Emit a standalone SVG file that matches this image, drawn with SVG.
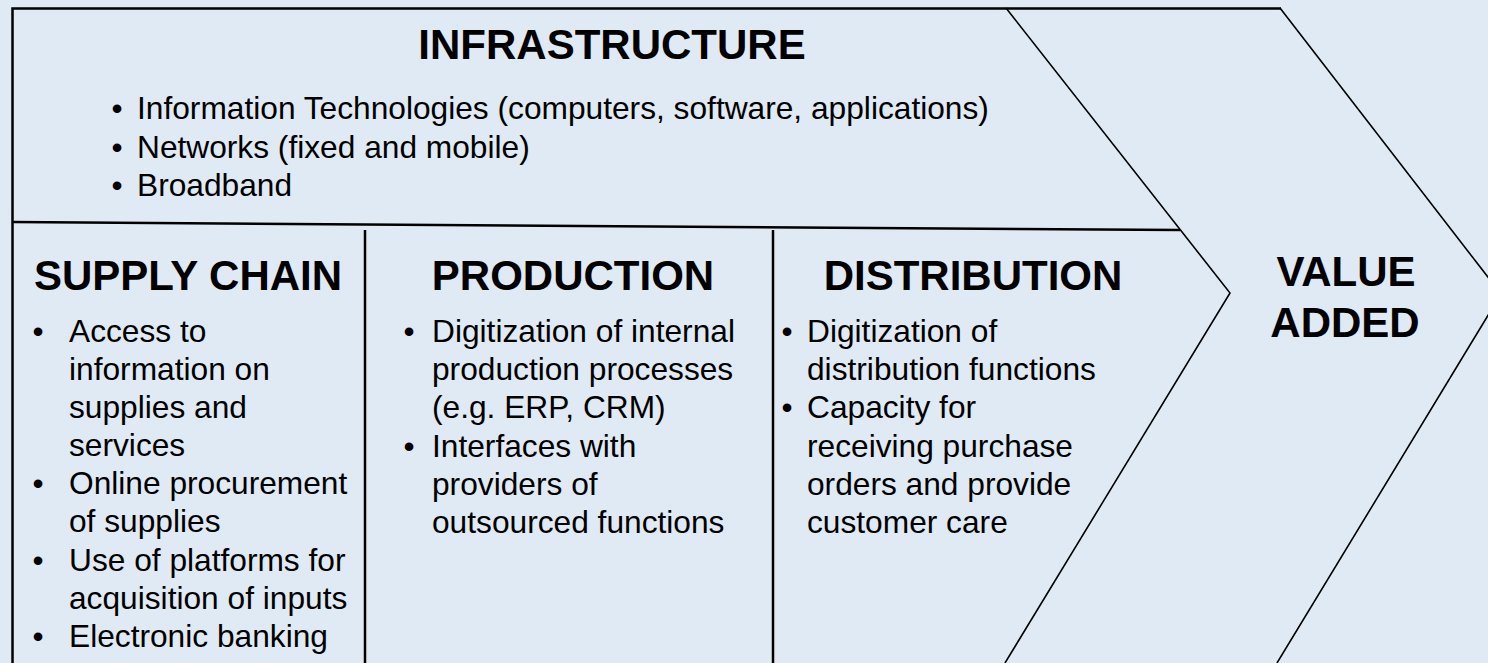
<svg xmlns="http://www.w3.org/2000/svg" width="1488" height="663" viewBox="0 0 1488 663">
<style>
.bg{fill:#DFEAF5}
.frame{stroke:#000;stroke-width:2.5;fill:none}
.chev{stroke:#000;stroke-width:1.6;fill:none}
.h{font-family:"Liberation Sans",Arial,sans-serif;font-weight:bold;font-size:42px;fill:#000;text-anchor:middle}
.t{font-family:"Liberation Sans",Arial,sans-serif;font-size:31.7px;fill:#000}
</style>
<rect class="bg" x="0" y="0" width="1488" height="663"/>
<g id="connectors">
<polyline class="frame" points="12.5,663 12.5,8.5 1281,8.5"/>
<line class="frame" x1="13" y1="222" x2="1180" y2="230" stroke-width="2.2"/>
<line class="frame" x1="365" y1="230" x2="365" y2="663"/>
<line class="frame" x1="773" y1="230" x2="773" y2="663"/>
<polyline class="chev" points="1006,8 1230,293 1005,663"/>
<polyline class="chev" points="1280,8 1501,294 1277,663"/>
</g>
<g id="infrastructure">
<text class="h" x="612" y="59">INFRASTRUCTURE</text>
<text class="t" x="111.5" y="119">•</text><text class="t" x="137" y="119">Information Technologies (computers, software, applications)</text>
<text class="t" x="111.5" y="157.5">•</text><text class="t" x="137" y="157.5">Networks (fixed and mobile)</text>
<text class="t" x="111.5" y="196">•</text><text class="t" x="137" y="196">Broadband</text>
</g>
<g id="supply-chain">
<text class="h" x="188" y="290">SUPPLY CHAIN</text>
<text class="t" x="32.5" y="342">•</text><text class="t" x="69" y="342">Access to</text>
<text class="t" x="69" y="380">information on</text>
<text class="t" x="69" y="418">supplies and</text>
<text class="t" x="69" y="456">services</text>
<text class="t" x="32.5" y="494">•</text><text class="t" x="69" y="494">Online procurement</text>
<text class="t" x="69" y="532">of supplies</text>
<text class="t" x="32.5" y="571">•</text><text class="t" x="69" y="571">Use of platforms for</text>
<text class="t" x="69" y="609">acquisition of inputs</text>
<text class="t" x="32.5" y="647">•</text><text class="t" x="69" y="647">Electronic banking</text>
</g>
<g id="production">
<text class="h" x="573" y="290">PRODUCTION</text>
<text class="t" x="403.5" y="342">•</text><text class="t" x="432" y="342">Digitization of internal</text>
<text class="t" x="432" y="380">production processes</text>
<text class="t" x="432" y="418">(e.g. ERP, CRM)</text>
<text class="t" x="403.5" y="457">•</text><text class="t" x="432" y="457">Interfaces with</text>
<text class="t" x="432" y="495">providers of</text>
<text class="t" x="432" y="533">outsourced functions</text>
</g>
<g id="distribution">
<text class="h" x="973" y="290">DISTRIBUTION</text>
<text class="t" x="781.5" y="342">•</text><text class="t" x="807" y="342">Digitization of</text>
<text class="t" x="807" y="380">distribution functions</text>
<text class="t" x="781.5" y="418">•</text><text class="t" x="807" y="418">Capacity for</text>
<text class="t" x="807" y="457">receiving purchase</text>
<text class="t" x="807" y="495">orders and provide</text>
<text class="t" x="807" y="533">customer care</text>
</g>
<g id="value-added">
<text class="h" x="1346" y="286">VALUE</text>
<text class="h" x="1345" y="337">ADDED</text>
</g>
</svg>
